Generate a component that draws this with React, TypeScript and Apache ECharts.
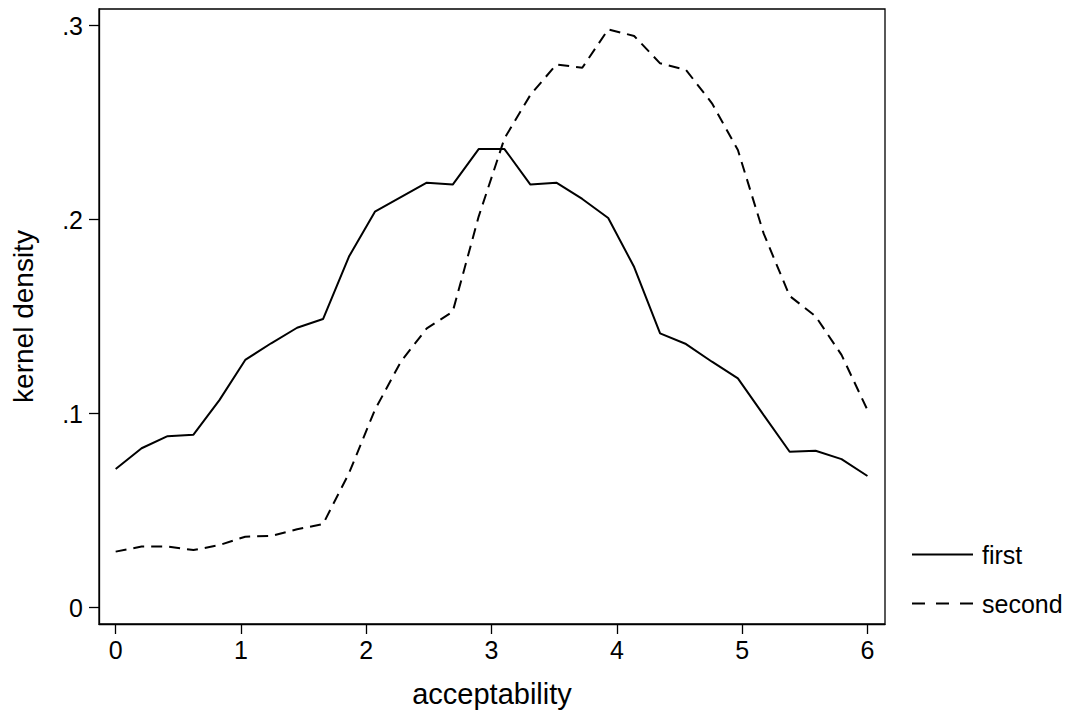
import React, { useEffect, useRef } from "react";
import * as echarts from "echarts";

// acceptability grid (kernel density evaluation points)
const xPoints = [
  0, 0.207, 0.414, 0.621, 0.828, 1.034, 1.241, 1.448, 1.655, 1.862,
  2.069, 2.276, 2.483, 2.69, 2.897, 3.103, 3.31, 3.517, 3.724, 3.931,
  4.138, 4.345, 4.552, 4.759, 4.966, 5.172, 5.379, 5.586, 5.793, 6,
];

const firstDensity = [
  0.0715, 0.0822, 0.0884, 0.0892, 0.107, 0.1277, 0.1363, 0.1443, 0.1488, 0.181,
  0.2041, 0.2116, 0.2191, 0.2181, 0.2364, 0.2364, 0.2181, 0.2191, 0.2107, 0.2009,
  0.1756, 0.1414, 0.1359, 0.1268, 0.1182, 0.0993, 0.0804, 0.0809, 0.0766, 0.0679,
];

const secondDensity = [
  0.0289, 0.0315, 0.0315, 0.0297, 0.0323, 0.0366, 0.037, 0.0404, 0.0431, 0.0693,
  0.102, 0.1268, 0.144, 0.1526, 0.2016, 0.2419, 0.2643, 0.28, 0.2783, 0.2981,
  0.2947, 0.2806, 0.2772, 0.26, 0.2359, 0.1928, 0.1607, 0.1502, 0.1303, 0.1019,
];

const xTickValues = [0, 1, 2, 3, 4, 5, 6];
const xTickLabels = ["0", "1", "2", "3", "4", "5", "6"];
const yTickValues = [0, 0.1, 0.2, 0.3];
const yTickLabels = ["0", ".1", ".2", ".3"];

const seriesNames = ["first", "second"];
const xTitle = "acceptability";
const yTitle = "kernel density";

const FONT = "'Liberation Sans', Arial, Helvetica, sans-serif";

export default function App() {
  const ref = useRef<HTMLDivElement>(null);

  useEffect(() => {
    if (!ref.current) return;
    const chart = echarts.init(ref.current, null, { renderer: "svg" });

    const pair = (vals: number[]) => xPoints.map((x, i) => [x, vals[i]]);

    const labelFor = (values: number[], labels: string[]) => (v: number) => {
      const idx = values.findIndex((t) => Math.abs(t - v) < 1e-9);
      return idx >= 0 ? labels[idx] : "";
    };

    chart.setOption({
      animation: false,
      backgroundColor: "#ffffff",
      textStyle: { fontFamily: FONT, color: "#000" },
      grid: {
        left: 99,
        top: 9,
        width: 786,
        height: 615,
        show: true,
        borderColor: "#000",
        borderWidth: 1.3,
        backgroundColor: "#ffffff",
      },
      legend: {
        orient: "vertical",
        left: 906,
        top: 537,
        itemWidth: 61,
        itemHeight: 14,
        itemGap: 24,
        itemStyle: {
          color: "transparent",
          borderColor: "transparent",
          borderWidth: 0,
          opacity: 0,
        },
        textStyle: {
          fontFamily: FONT,
          fontSize: 25,
          color: "#000",
          padding: [0, 0, 0, 4],
        },
        data: [
          { name: seriesNames[0] },
          { name: seriesNames[1], lineStyle: { type: [13, 11] } },
        ],
      },
      xAxis: {
        type: "value",
        min: -0.133,
        max: 6.14,
        name: xTitle,
        nameLocation: "middle",
        nameGap: 55,
        nameTextStyle: { fontFamily: FONT, fontSize: 29, color: "#000" },
        axisLine: {
          show: true,
          onZero: false,
          lineStyle: { color: "#000", width: 1.3 },
        },
        axisTick: {
          show: true,
          inside: false,
          length: 10,
          customValues: xTickValues,
          lineStyle: { color: "#000", width: 1.3 },
        },
        axisLabel: {
          show: true,
          customValues: xTickValues,
          margin: 13,
          fontFamily: FONT,
          fontSize: 25,
          color: "#000",
          formatter: labelFor(xTickValues, xTickLabels),
        },
        splitLine: { show: false },
      },
      yAxis: {
        type: "value",
        min: -0.0084,
        max: 0.3086,
        name: yTitle,
        nameLocation: "middle",
        nameGap: 62,
        nameTextStyle: { fontFamily: FONT, fontSize: 28, color: "#000" },
        axisLine: {
          show: true,
          onZero: false,
          lineStyle: { color: "#000", width: 1.3 },
        },
        axisTick: {
          show: true,
          inside: false,
          length: 10,
          customValues: yTickValues,
          lineStyle: { color: "#000", width: 1.3 },
        },
        axisLabel: {
          show: true,
          customValues: yTickValues,
          margin: 16,
          fontFamily: FONT,
          fontSize: 25,
          color: "#000",
          formatter: labelFor(yTickValues, yTickLabels),
        },
        splitLine: { show: false },
      },
      series: [
        {
          name: seriesNames[0],
          type: "line",
          data: pair(firstDensity),
          symbol: "none",
          lineStyle: { color: "#000", width: 2, type: "solid" },
          itemStyle: { color: "#000" },
        },
        {
          name: seriesNames[1],
          type: "line",
          data: pair(secondDensity),
          symbol: "none",
          lineStyle: { color: "#000", width: 2, type: [11, 7] },
          itemStyle: { color: "#000" },
        },
      ],
    });

    return () => chart.dispose();
  }, []);

  return (
    <div
      ref={ref}
      style={{ position: "fixed", left: 0, top: 0, width: 1076, height: 715 }}
    />
  );
}
